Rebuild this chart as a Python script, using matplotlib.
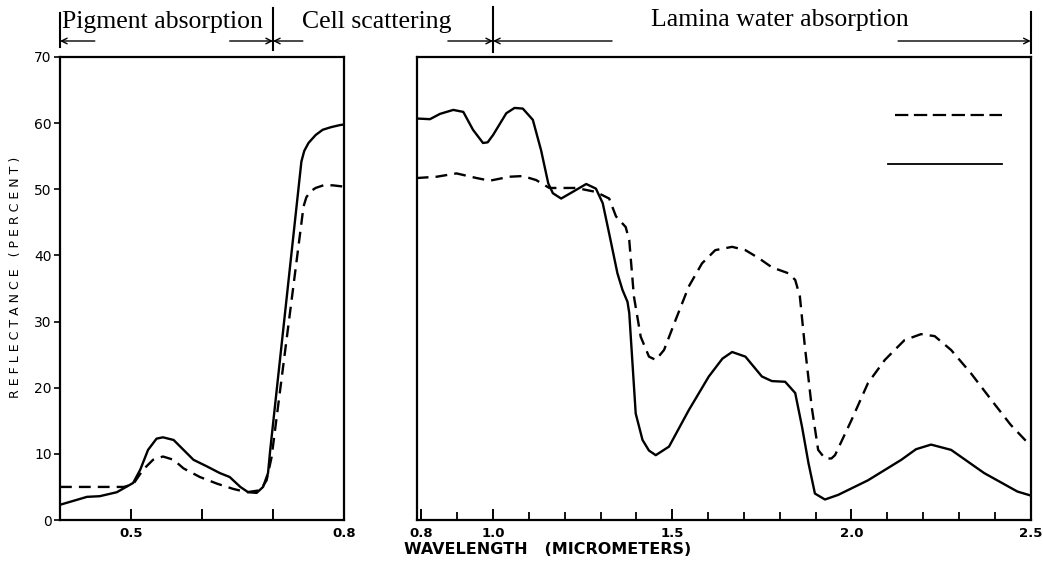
import matplotlib.pyplot as plt
import matplotlib.transforms as mtransforms

# visible / near-infrared part (left panel)
vis_wl_solid = [0.400, 0.438, 0.456, 0.480, 0.503, 0.513, 0.524, 0.536, 0.545, 0.560,
                0.574, 0.588, 0.607, 0.625, 0.639, 0.654, 0.665, 0.677, 0.686, 0.693,
                0.696, 0.740, 0.744, 0.750, 0.760, 0.770, 0.782, 0.794, 0.800]
vis_solid = [2.3, 3.5, 3.6, 4.2, 5.6, 7.6, 10.6, 12.3, 12.5, 12.1,
             10.6, 9.1, 8.1, 7.1, 6.5, 5.0, 4.2, 4.1, 5.0, 7.1,
             10.5, 54.2, 55.8, 57.0, 58.2, 59.0, 59.4, 59.7, 59.8]

vis_wl_dash = [0.400, 0.450, 0.490, 0.503, 0.517, 0.531, 0.545, 0.560, 0.574, 0.597,
               0.621, 0.644, 0.663, 0.682, 0.691, 0.698, 0.743, 0.747, 0.753, 0.760,
               0.771, 0.784, 0.800]
vis_dash = [5.0, 5.0, 5.0, 5.4, 7.6, 9.1, 9.6, 9.1, 7.8, 6.5,
            5.5, 4.7, 4.2, 4.5, 6.0, 9.5, 47.4, 48.8, 49.7, 50.2,
            50.6, 50.6, 50.4]

# infrared part (right panel)
ir_wl_solid = [0.787, 0.824, 0.852, 0.889, 0.917, 0.944, 0.972, 0.985, 1.000, 1.037,
               1.060, 1.083, 1.111, 1.134, 1.154, 1.167, 1.190, 1.222, 1.260, 1.287,
               1.306, 1.324, 1.347, 1.361, 1.375, 1.380, 1.389, 1.398, 1.417, 1.435,
               1.454, 1.491, 1.546, 1.602, 1.640, 1.667, 1.704, 1.750, 1.778, 1.815,
               1.843, 1.862, 1.880, 1.898, 1.926, 1.963, 2.046, 2.139, 2.180, 2.222,
               2.278, 2.370, 2.463, 2.500]
ir_solid = [60.7, 60.6, 61.4, 62.0, 61.7, 59.0, 57.0, 57.1, 58.2, 61.5,
            62.3, 62.2, 60.5, 55.9, 50.9, 49.4, 48.6, 49.6, 50.8, 50.1,
            47.9, 43.3, 37.3, 34.8, 33.0, 31.3, 23.7, 16.1, 12.1, 10.5,
            9.8, 11.1, 16.6, 21.7, 24.4, 25.4, 24.7, 21.7, 21.0, 20.9,
            19.2, 14.1, 8.6, 4.0, 3.1, 3.8, 6.0, 9.1, 10.7, 11.4,
            10.6, 7.1, 4.3, 3.7]

ir_wl_dash = [0.787, 0.843, 0.898, 0.954, 0.991, 1.046, 1.083, 1.120, 1.157, 1.232,
              1.287, 1.324, 1.343, 1.370, 1.380, 1.393, 1.412, 1.435, 1.454, 1.477,
              1.509, 1.546, 1.583, 1.620, 1.667, 1.704, 1.741, 1.778, 1.824, 1.843,
              1.856, 1.870, 1.889, 1.907, 1.926, 1.944, 1.954, 2.000, 2.046, 2.093,
              2.148, 2.194, 2.232, 2.278, 2.333, 2.398, 2.444, 2.500]
ir_dash = [51.7, 51.9, 52.4, 51.7, 51.3, 51.9, 52.0, 51.4, 50.2, 50.2,
           49.6, 48.6, 45.9, 44.3, 42.3, 33.8, 27.7, 24.7, 24.2, 25.7,
           30.2, 35.3, 38.8, 40.8, 41.3, 40.8, 39.6, 38.2, 37.3, 36.3,
           33.8, 26.2, 17.1, 10.6, 9.3, 9.3, 9.8, 15.1, 20.7, 24.2,
           27.2, 28.1, 27.8, 25.7, 22.2, 17.6, 14.4, 11.2]

yticks = [0, 10, 20, 30, 40, 50, 60, 70]
vis_ticks = [0.5, 0.6, 0.7, 0.8]
vis_labels = ['0.5', '', '', '0.8']
ir_major = [0.8, 1.0, 1.5, 2.0, 2.5]
ir_labels = ['0.8', '1.0', '1.5', '2.0', '2.5']
ir_minor = [0.9, 1.1, 1.2, 1.3, 1.4, 1.6, 1.7, 1.8, 1.9, 2.1, 2.2, 2.3, 2.4]

W, H = 1043, 566
fig = plt.figure(figsize=(W / 100, H / 100), dpi=100)
ax1 = fig.add_axes([60 / W, 46 / H, 284 / W, 463 / H])
ax2 = fig.add_axes([416.7 / W, 46 / H, 614 / W, 463 / H])

lw = 1.7
ax1.plot(vis_wl_solid, vis_solid, color='black', lw=lw)
ax1.plot(vis_wl_dash, vis_dash, color='black', lw=lw, dashes=(5, 3))
ax2.plot(ir_wl_solid, ir_solid, color='black', lw=lw)
ax2.plot(ir_wl_dash, ir_dash, color='black', lw=lw, dashes=(5, 3))

# unlabeled key lines, top right
ax2.plot([0.779, 0.953], [0.875, 0.875], color='black', lw=1.6, dashes=(6, 2.5),
         transform=ax2.transAxes)
ax2.plot([0.768, 0.953], [0.769, 0.769], color='black', lw=1.3,
         transform=ax2.transAxes)

tick_font = dict(fontsize=9.5, fontweight='bold', family='DejaVu Sans')
for ax in (ax1, ax2):
    ax.set_ylim(0, 70)
    for s in ax.spines.values():
        s.set_linewidth(1.6)
    ax.tick_params(axis='x', direction='in', length=8, width=1.4, pad=5)
    ax.tick_params(axis='x', which='minor', direction='in', length=6, width=1.3)

ax1.set_xlim(0.4, 0.8)
ax1.set_xticks(vis_ticks)
ax1.set_xticklabels(vis_labels, **tick_font)
ax1.set_yticks(yticks)
ax1.set_yticklabels([str(v) for v in yticks], fontsize=10, family='DejaVu Sans')
ax1.tick_params(axis='y', direction='out', length=4, width=1.2, pad=2)
ax1.set_ylabel('R E F L E C T A N C E   ( P E R C E N T )', fontsize=9,
               family='DejaVu Sans')
ax1.yaxis.set_label_coords(-0.134, 0.525)

ax2.set_xlim(0.787, 2.5)
ax2.set_xticks(ir_major)
ax2.set_xticklabels(ir_labels, **tick_font)
ax2.set_xticks(ir_minor, minor=True)
ax2.set_yticks([])

fig.text(548 / W, 1 - 550 / H, 'WAVELENGTH   (MICROMETERS)', ha='center', va='center',
         fontsize=11.5, fontweight='bold', family='DejaVu Sans')

# region annotations along the top
b1 = mtransforms.blended_transform_factory(ax1.transData, fig.transFigure)
b2 = mtransforms.blended_transform_factory(ax2.transData, fig.transFigure)
ya = 1 - 41 / H
serif = dict(fontsize=18.5, family='Liberation Serif', va='baseline', ha='center')
fig.text(0.544, 1 - 28 / H, 'Pigment absorption', transform=b1, **serif)
fig.text(0.846, 1 - 28 / H, 'Cell scattering', transform=b1, **serif)
fig.text(1.80, 1 - 26 / H, 'Lamina water absorption', transform=b2, **serif)

bars = [(b1, 0.4, 13, 47), (b1, 0.7, 8, 50), (b2, 1.0, 7, 52), (b2, 2.5, 12, 53)]
for tr, x, y0, y1 in bars:
    fig.add_artist(plt.Line2D([x, x], [1 - y0 / H, 1 - y1 / H], color='black',
                              lw=1.5, transform=tr))

arrows = [(b1, 0.4, 0.449), (b1, 0.7, 0.639), (b1, 0.7, 0.742),
          (b2, 1.0, 0.874), (b2, 1.0, 1.332), (b2, 2.5, 2.13)]
for tr, head, tail in arrows:
    ax1.annotate('', xy=(head, ya), xytext=(tail, ya), xycoords=tr, textcoords=tr,
                 arrowprops=dict(arrowstyle='->', lw=1.0, color='black',
                                 shrinkA=0, shrinkB=0))

fig.savefig('out.png', dpi=100)
